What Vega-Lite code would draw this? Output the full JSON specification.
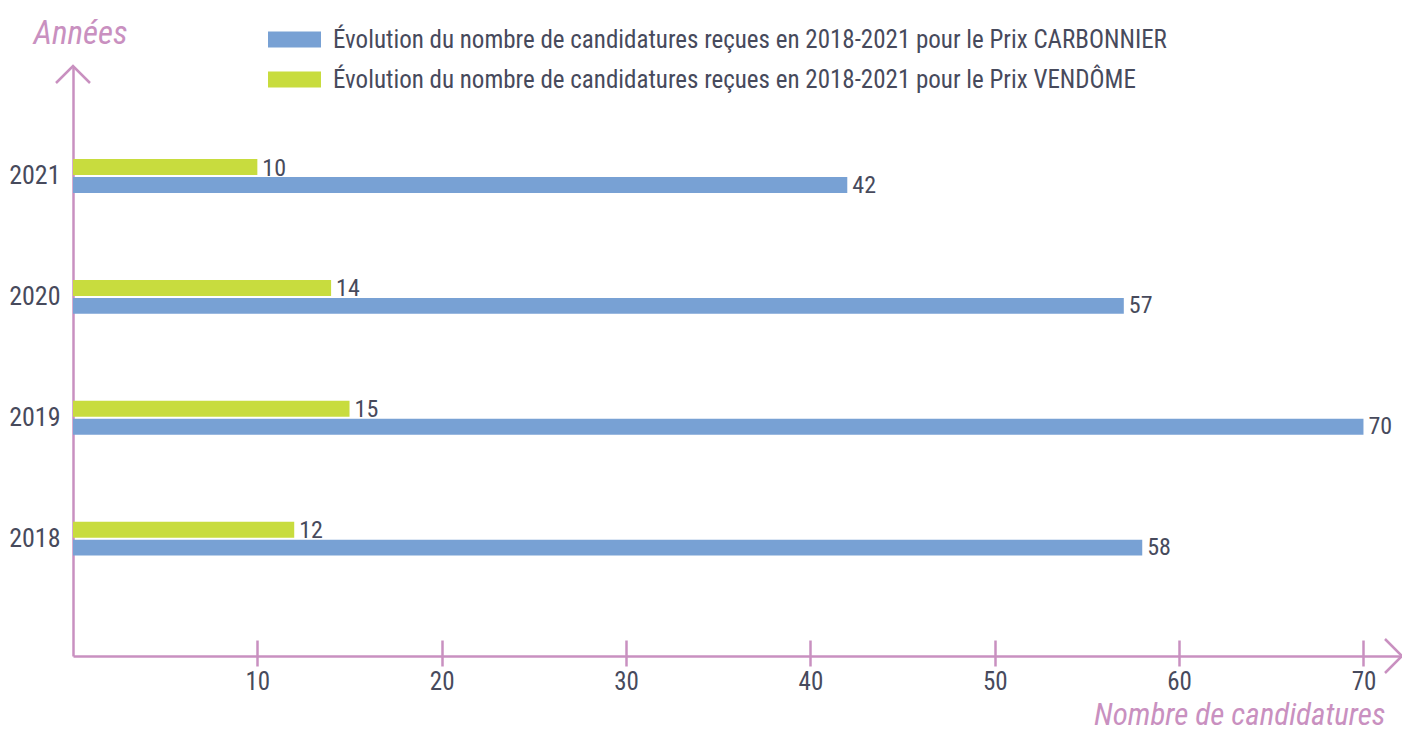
{
  "$schema": "https://vega.github.io/schema/vega-lite/v6.json",
  "width": 1329,
  "height": 590,
  "autosize": {"type": "none"},
  "padding": {"left": 73, "top": 66, "right": 0, "bottom": 75},
  "background": "white",
  "config": {
    "view": {"stroke": null},
    "font": "Roboto Condensed, Open Sans Condensed, Liberation Sans Narrow, DejaVu Sans Condensed, sans-serif"
  },
  "datasets": {
    "bars": [
      {"year": "2021", "prix": "Carbonnier", "n": 42},
      {"year": "2021", "prix": "Vendôme", "n": 10},
      {"year": "2020", "prix": "Carbonnier", "n": 57},
      {"year": "2020", "prix": "Vendôme", "n": 14},
      {"year": "2019", "prix": "Carbonnier", "n": 70},
      {"year": "2019", "prix": "Vendôme", "n": 15},
      {"year": "2018", "prix": "Carbonnier", "n": 58},
      {"year": "2018", "prix": "Vendôme", "n": 12}
    ],
    "arrowX": [{"px": 72.09, "py": 0}],
    "arrowY": [{"px": 0, "py": 1}]
  },
  "layer": [
    {
      "data": {"name": "bars"},
      "mark": {"type": "bar"},
      "encoding": {
        "x": {
          "field": "n", "type": "quantitative",
          "scale": {"domain": [0, 72.09], "nice": false, "zero": true},
          "axis": {
            "orient": "bottom",
            "values": [10, 20, 30, 40, 50, 60, 70],
            "grid": false,
            "domainColor": "#c990c0", "domainWidth": 2.5,
            "tickColor": "#c990c0", "tickWidth": 2.5, "tickSize": 10,
            "labelFontSize": 25, "labelColor": "#474a5c", "labelPadding": 3,
            "title": "Nombre de candidatures",
            "titleFontStyle": "italic", "titleFontWeight": "normal",
            "titleFontSize": 31, "titleColor": "#c990c0",
            "titleX": 1312, "titleY": 68, "titleAlign": "right", "titleBaseline": "alphabetic", "titleAnchor": null
          }
        },
        "y": {
          "field": "year", "type": "nominal", "sort": "descending",
          "scale": {"paddingInner": 0.719, "paddingOuter": 0.8, "align": 0.481},
          "axis": {
            "orient": "left",
            "domainColor": "#c990c0", "domainWidth": 2.5,
            "ticks": false, "labelPadding": 13,
            "labelFontSize": 26, "labelColor": "#474a5c",
            "title": "Années", "titleAngle": 0,
            "titleFontStyle": "italic", "titleFontWeight": "normal",
            "titleFontSize": 33, "titleColor": "#c990c0",
            "titleX": 7, "titleY": -23, "titleAlign": "center", "titleBaseline": "alphabetic", "titleAnchor": null
          }
        },
        "yOffset": {
          "field": "prix", "type": "nominal",
          "scale": {"domain": ["Vendôme", "Carbonnier"], "paddingInner": 0.111}
        },
        "color": {
          "field": "prix", "type": "nominal",
          "scale": {"domain": ["Carbonnier", "Vendôme"], "range": ["#78a1d4", "#c8dc3e"]},
          "legend": {
            "orient": "none", "legendX": 195, "legendY": -53,
            "title": null,
            "symbolType": "M-1,-0.302H1V0.302H-1Z",
            "symbolSize": 2809, "symbolStrokeWidth": 0, "symbolOpacity": 1,
            "labelFontSize": 25, "labelColor": "#474a5c", "labelOffset": 12,
            "rowPadding": -1,
            "labelLimit": 1200,
            "labelExpr": "'Évolution du nombre de candidatures reçues en 2018-2021 pour le Prix ' + (datum.value == 'Carbonnier' ? 'CARBONNIER' : 'VENDÔME')"
          }
        }
      }
    },
    {
      "data": {"name": "bars"},
      "mark": {"type": "text", "align": "left", "baseline": "middle", "dx": 5, "dy": 1, "fontSize": 24, "color": "#474a5c"},
      "encoding": {
        "x": {
          "field": "n", "type": "quantitative",
          "scale": {"domain": [0, 72.09], "nice": false, "zero": true},
          "axis": {
            "orient": "bottom",
            "values": [10, 20, 30, 40, 50, 60, 70],
            "grid": false, "domain": false, "labels": false,
            "tickColor": "#c990c0", "tickWidth": 2.5, "tickSize": -16,
            "title": null
          }
        },
        "y": {
          "field": "year", "type": "nominal", "sort": "descending",
          "scale": {"paddingInner": 0.719, "paddingOuter": 0.8, "align": 0.481},
          "axis": null
        },
        "yOffset": {
          "field": "prix", "type": "nominal",
          "scale": {"domain": ["Vendôme", "Carbonnier"], "paddingInner": 0.111}
        },
        "text": {"field": "n", "type": "quantitative"}
      }
    },
    {
      "data": {"name": "arrowX"},
      "mark": {"type": "point", "shape": "M-1,-1L0,0L-1,1", "filled": false, "stroke": "#c990c0", "strokeWidth": 2.5, "size": 1156, "opacity": 1, "angle": 0},
      "encoding": {
        "x": {"field": "px", "type": "quantitative", "scale": {"domain": [0, 72.09], "nice": false, "zero": true}, "axis": null},
        "y": {"field": "py", "type": "quantitative", "scale": {"domain": [0, 1], "nice": false}, "axis": null}
      }
    },
    {
      "data": {"name": "arrowY"},
      "mark": {"type": "point", "shape": "M-1,-1L0,0L-1,1", "filled": false, "stroke": "#c990c0", "strokeWidth": 2.5, "size": 1156, "opacity": 1, "angle": 270},
      "encoding": {
        "x": {"field": "px", "type": "quantitative", "scale": {"domain": [0, 72.09], "nice": false, "zero": true}, "axis": null},
        "y": {"field": "py", "type": "quantitative", "scale": {"domain": [0, 1], "nice": false}, "axis": null}
      }
    }
  ],
  "resolve": {"scale": {"y": "independent", "yOffset": "independent"}, "axis": {"x": "independent", "y": "independent"}}
}
